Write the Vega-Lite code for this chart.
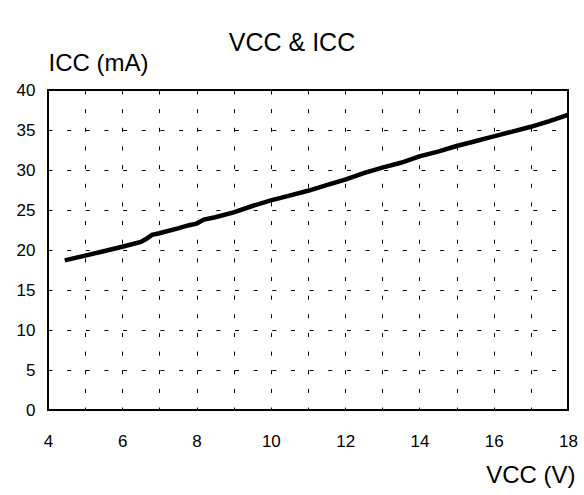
{
  "$schema": "https://vega.github.io/schema/vega-lite/v6.json",
  "width": 520,
  "height": 320,
  "autosize": {"type": "none"},
  "padding": {"left": 48, "top": 90, "right": 16, "bottom": 85},
  "background": "white",
  "title": {
    "text": "VCC & ICC",
    "font": "Liberation Sans",
    "fontSize": 25,
    "fontWeight": "normal",
    "color": "black",
    "anchor": "middle",
    "frame": "group",
    "dx": -16,
    "dy": 5,
    "offset": 0
  },
  "config": {
    "font": "Liberation Sans",
    "view": {"stroke": "black", "strokeWidth": 2},
    "axis": {
      "labelFont": "Liberation Sans",
      "titleFont": "Liberation Sans",
      "labelColor": "black",
      "titleColor": "black",
      "labelFontSize": 17,
      "titleFontSize": 24,
      "titleFontWeight": "normal",
      "domain": false,
      "ticks": false,
      "tickSize": 0,
      "grid": true,
      "gridColor": "black",
      "gridOpacity": 1,
      "gridWidth": 1,
      "gridDash": [4, 14.65]
    }
  },
  "data": {
    "values": [
      {"vcc": 4.45, "icc": 18.7},
      {"vcc": 5.0, "icc": 19.3},
      {"vcc": 5.5, "icc": 19.85},
      {"vcc": 6.0, "icc": 20.4},
      {"vcc": 6.5, "icc": 21.0},
      {"vcc": 6.65, "icc": 21.4},
      {"vcc": 6.8, "icc": 21.9},
      {"vcc": 7.0, "icc": 22.1},
      {"vcc": 7.5, "icc": 22.7},
      {"vcc": 7.8, "icc": 23.1},
      {"vcc": 8.0, "icc": 23.3},
      {"vcc": 8.2, "icc": 23.8},
      {"vcc": 8.5, "icc": 24.1},
      {"vcc": 9.0, "icc": 24.7},
      {"vcc": 9.5, "icc": 25.5},
      {"vcc": 10.0, "icc": 26.2},
      {"vcc": 10.5, "icc": 26.8},
      {"vcc": 11.0, "icc": 27.4},
      {"vcc": 11.5, "icc": 28.1},
      {"vcc": 12.0, "icc": 28.8},
      {"vcc": 12.5, "icc": 29.6},
      {"vcc": 13.0, "icc": 30.3},
      {"vcc": 13.5, "icc": 30.9},
      {"vcc": 14.0, "icc": 31.7},
      {"vcc": 14.5, "icc": 32.3},
      {"vcc": 15.0, "icc": 33.0},
      {"vcc": 15.5, "icc": 33.6},
      {"vcc": 16.0, "icc": 34.2},
      {"vcc": 16.5, "icc": 34.8},
      {"vcc": 17.0, "icc": 35.4},
      {"vcc": 17.5, "icc": 36.1},
      {"vcc": 18.0, "icc": 36.9}
    ]
  },
  "mark": {"type": "line", "color": "black", "strokeWidth": 4.5, "clip": true},
  "encoding": {
    "x": {
      "field": "vcc",
      "type": "quantitative",
      "scale": {"domain": [4, 18], "nice": false, "zero": false},
      "axis": {
        "title": "VCC (V)",
        "values": [4, 5, 6, 7, 8, 9, 10, 11, 12, 13, 14, 15, 16, 17, 18],
        "labelExpr": "datum.value % 2 == 0 ? datum.label : ''",
        "labelPadding": 23,
        "labelFlush": false,
        "labelOverlap": false,
        "titleAnchor": "end",
        "titleAlign": "right",
        "titleBaseline": "alphabetic",
        "titleX": 527,
        "titleY": 72
      }
    },
    "y": {
      "field": "icc",
      "type": "quantitative",
      "scale": {"domain": [0, 40], "nice": false},
      "axis": {
        "title": "ICC (mA)",
        "values": [0, 5, 10, 15, 20, 25, 30, 35, 40],
        "labelPadding": 13,
        "labelFlush": false,
        "labelOverlap": false,
        "titleAngle": 0,
        "titleAnchor": "start",
        "titleAlign": "left",
        "titleBaseline": "alphabetic",
        "titleX": 0,
        "titleY": -20
      }
    }
  }
}
